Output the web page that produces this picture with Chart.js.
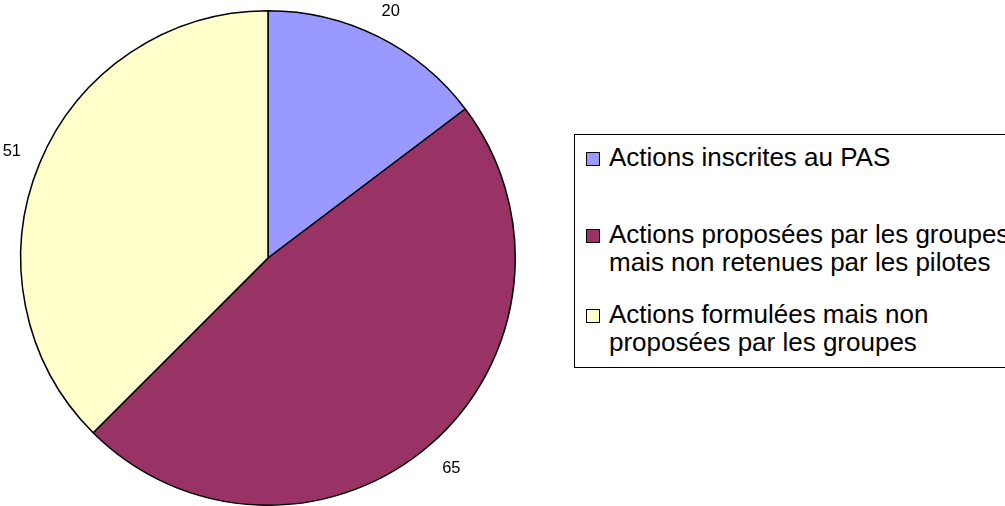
<!DOCTYPE html>
<html><head><meta charset="utf-8">
<script src="https://cdn.jsdelivr.net/npm/chart.js@4/dist/chart.umd.min.js"></script>
<style>
html,body{margin:0;padding:0;background:#fff;width:1005px;height:506px;overflow:hidden;font-family:"Liberation Sans",Arial,sans-serif;}
#wrap{position:relative;width:1005px;height:506px;overflow:hidden;}
#c{position:absolute;left:0;top:0;}
#legend{position:absolute;left:574px;top:134px;width:460px;height:234px;border:1px solid #000;box-sizing:border-box;background:#fff;}
.item{position:absolute;left:11px;font-size:26px;line-height:28px;color:#000;white-space:nowrap;}
.sw{position:absolute;left:0;top:9px;width:12px;height:12px;border:1px solid #000;}
.txt{position:absolute;left:23px;top:0;}
</style></head>
<body><div id="wrap"><canvas id="c" width="1005" height="506"></canvas><div id="legend"></div></div>
<script>
const categories = [
  ["Actions inscrites au PAS"],
  ["Actions proposées par les groupes", "mais non retenues par les pilotes"],
  ["Actions formulées mais non", "proposées par les groupes"]
];
const values = [20, 65, 51];
const colors = ["#9999FF", "#993366", "#FFFFCC"];
// radial offset (px) of each value label from the rim, along the slice middle
const labelGap = [28, 32, 30];
const legendTops = [8, 85, 165];

const valueLabels = {
  id: 'valueLabels',
  afterDatasetsDraw(chart) {
    const ctx = chart.ctx;
    const meta = chart.getDatasetMeta(0);
    ctx.save();
    ctx.font = '16.5px "Liberation Sans", Arial, sans-serif';
    ctx.fillStyle = '#000';
    ctx.textAlign = 'center';
    ctx.textBaseline = 'middle';
    meta.data.forEach((arc, i) => {
      const p = arc.getProps(['x','y','startAngle','endAngle','outerRadius'], true);
      const mid = (p.startAngle + p.endAngle) / 2;
      const r = p.outerRadius + labelGap[i];
      ctx.fillText(String(values[i]), p.x + Math.cos(mid) * r, p.y + Math.sin(mid) * r);
    });
    ctx.restore();
  }
};

new Chart(document.getElementById('c'), {
  type: 'pie',
  data: {
    labels: categories,
    datasets: [{
      data: values,
      backgroundColor: colors,
      borderColor: '#000',
      borderWidth: 1.5,
      hoverOffset: 0
    }]
  },
  options: {
    responsive: false,
    animation: false,
    events: [],
    layout: { padding: { left: 20, top: 10, right: 489, bottom: 0 } },
    plugins: { legend: { display: false }, tooltip: { enabled: false } }
  },
  plugins: [valueLabels]
});

const lg = document.getElementById('legend');
categories.forEach((lines, i) => {
  const it = document.createElement('div');
  it.className = 'item';
  it.style.top = legendTops[i] + 'px';
  const sw = document.createElement('div');
  sw.className = 'sw';
  sw.style.background = colors[i];
  const tx = document.createElement('div');
  tx.className = 'txt';
  tx.innerHTML = lines.map(l => l.replace(/&/g,'&amp;').replace(/</g,'&lt;')).join('<br>');
  it.appendChild(sw); it.appendChild(tx);
  lg.appendChild(it);
});
</script>
</body></html>
